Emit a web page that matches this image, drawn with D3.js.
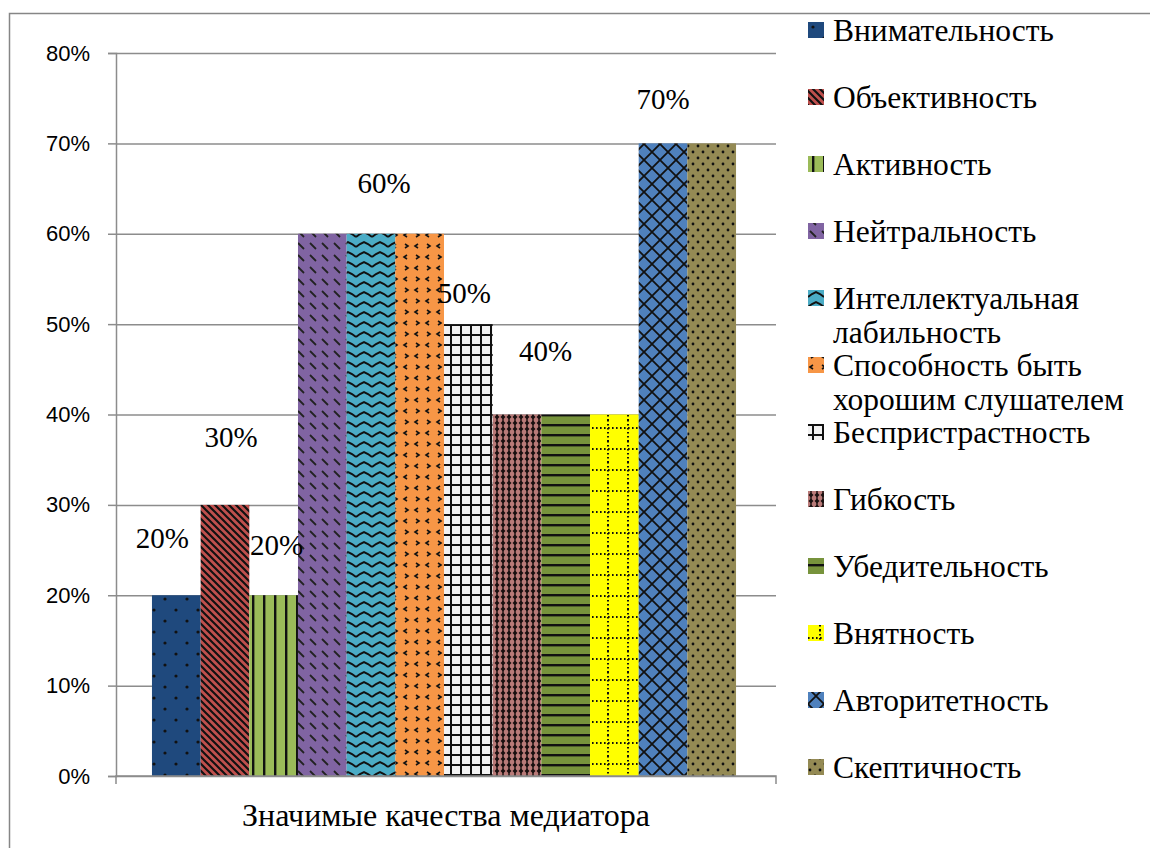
<!DOCTYPE html>
<html>
<head>
<meta charset="utf-8">
<script src="https://cdn.jsdelivr.net/npm/d3@7"></script>
<style>
  body { margin: 0; background: #fff; }
  svg { display: block; }
  .serif { font-family: "Liberation Serif", "Times New Roman", Times, "DejaVu Serif", serif; }
</style>
</head>
<body>
<div id="chart"></div>
<script>
  // Chart data
  const categories = ['Значимые качества медиатора'];
  const qualities = [
    'Внимательность', 'Объективность', 'Активность', 'Нейтральность',
    'Интеллектуальная лабильность', 'Способность быть хорошим слушателем',
    'Беспристрастность', 'Гибкость', 'Убедительность', 'Внятность',
    'Авторитетность', 'Скептичность'
  ];
  const values = [0.2, 0.3, 0.2, 0.6, 0.6, 0.6, 0.5, 0.4, 0.4, 0.4, 0.7, 0.7];
  const yTicks = [0, 0.1, 0.2, 0.3, 0.4, 0.5, 0.6, 0.7, 0.8];
  // which bars carry a visible data label (others are hidden behind overlap in the original)
  const labelledBars = [0, 1, 2, 4, 6, 8, 10];

  const barColors = ['#1f497d', '#c0504d', '#9bbb59', '#8064a2', '#4bacc6', '#f79646',
                     '#f2f2f2', '#b97a78', '#77933c', '#ffff00', '#4f81bd', '#948a54'];

  // label nudges [dx, dy] relative to bar centre / bar top
  const labelOffsets = {
    0: [-14, -47], 1: [6, -58], 2: [3, -40], 4: [13, -41],
    6: [-4, -21], 8: [-20, -54], 10: [0, -34]
  };

  const W = 1150, H = 848;
  const plot = { left: 116, right: 776, top: 53, bottom: 776 };

  const svg = d3.select('#chart')
    .append('svg')
    .attr('width', W)
    .attr('height', H);

  // ---- patterns ----
  const defs = svg.append('defs');
  const ink = '#111';

  function pattern(id, w, h, bg, draw) {
    const p = defs.append('pattern')
      .attr('id', id)
      .attr('patternUnits', 'userSpaceOnUse')
      .attr('width', w)
      .attr('height', h);
    p.append('rect').attr('width', w).attr('height', h).attr('fill', bg);
    draw(p);
  }

  const patternDefs = [
    // dotted
    (id, c) => pattern(id, 22, 22, c, p => {
      p.append('circle').attr('cx', 5).attr('cy', 5).attr('r', 1.6).attr('fill', ink);
      p.append('circle').attr('cx', 16).attr('cy', 16).attr('r', 1.6).attr('fill', ink);
    }),
    // wide downward diagonal
    (id, c) => pattern(id, 7, 7, c, p => {
      p.append('path').attr('d', 'M-1,-1L8,8M-1,6L1,8M6,-1L8,1')
        .attr('stroke', ink).attr('stroke-width', 2.2);
    }),
    // dark vertical
    (id, c) => pattern(id, 11, 11, c, p => {
      p.append('rect').attr('x', 4).attr('width', 2.4).attr('height', 11).attr('fill', ink);
    }),
    // dashed downward diagonal
    (id, c) => pattern(id, 12, 12, c, p => {
      p.append('path').attr('d', 'M2,3L8,9')
        .attr('stroke', '#222').attr('stroke-width', 1.8);
    }),
    // zigzag wave
    (id, c) => pattern(id, 16, 10, c, p => {
      p.append('path').attr('d', 'M0,7L4,4L8,2L12,4L16,7')
        .attr('fill', 'none').attr('stroke', ink).attr('stroke-width', 2);
    }),
    // divot
    (id, c) => pattern(id, 22, 22, c, p => {
      p.append('path').attr('d', 'M3,2L6,4L3,6M16,2L13,4L16,6M14,13L17,15L14,17M5,13L2,15L5,17')
        .attr('fill', 'none').attr('stroke', ink).attr('stroke-width', 1.6);
    }),
    // small grid
    (id, c) => pattern(id, 10, 10, c, p => {
      p.append('rect').attr('x', 4).attr('width', 2).attr('height', 10).attr('fill', ink);
      p.append('rect').attr('y', 4).attr('width', 10).attr('height', 2).attr('fill', ink);
    }),
    // solid diamond
    (id, c) => pattern(id, 6, 6, c, p => {
      p.append('path').attr('d', 'M3,0.5L5.5,3L3,5.5L0.5,3Z').attr('fill', '#1a1010');
      p.append('rect').attr('x', 2.3).attr('y', -1).attr('width', 1.4).attr('height', 8).attr('fill', '#1a1010');
    }),
    // dark horizontal
    (id, c) => pattern(id, 10, 10, c, p => {
      p.append('rect').attr('y', 4).attr('width', 10).attr('height', 2.4).attr('fill', ink);
    }),
    // dotted grid
    (id, c) => pattern(id, 20, 21, c, p => {
      p.append('path').attr('d', 'M0,8H20M12,0V21')
        .attr('stroke', ink).attr('stroke-width', 2).attr('stroke-dasharray', '1.6,2.4');
    }),
    // diagonal lattice
    (id, c) => pattern(id, 16, 16, c, p => {
      p.append('path').attr('d', 'M0,0L16,16M16,0L0,16M-1,15L1,17M15,-1L17,1M-1,1L1,-1M15,17L17,15')
        .attr('stroke', ink).attr('stroke-width', 1.8);
    }),
    // dense dots
    (id, c) => pattern(id, 10, 12, c, p => {
      p.append('circle').attr('cx', 2).attr('cy', 2).attr('r', 1.4).attr('fill', ink);
      p.append('circle').attr('cx', 7).attr('cy', 8).attr('r', 1.4).attr('fill', ink);
    })
  ];

  qualities.forEach((q, i) => patternDefs[i]('pat' + i, barColors[i]));

  // ---- frame ----
  svg.append('path')
    .attr('d', `M9.5,${H}V13.5H${W}`)
    .attr('fill', 'none')
    .attr('stroke', '#868686')
    .attr('stroke-width', 1.5);

  // ---- scales ----
  const x0 = d3.scaleBand()
    .domain(categories)
    .range([plot.left, plot.right])
    .paddingInner(0)
    .paddingOuter(0);

  const x = d3.scaleBand()
    .domain(qualities)
    .range([-2, x0.bandwidth() - 2])
    .paddingInner(0)
    .paddingOuter(0.78);

  const y = d3.scaleLinear()
    .domain([0, 0.8])
    .range([plot.bottom, plot.top]);

  // gridlines
  svg.append('g')
    .attr('transform', `translate(${plot.left},0)`)
    .call(d3.axisLeft(y).tickValues(yTicks).tickSize(-(plot.right - plot.left)).tickFormat(''))
    .call(g => g.select('.domain').remove())
    .call(g => g.selectAll('line').attr('stroke', '#8c8c8c').attr('stroke-width', 1.5));

  // y axis
  svg.append('g')
    .attr('transform', `translate(${plot.left},0)`)
    .call(d3.axisLeft(y).tickValues(yTicks).tickSize(8).tickPadding(18).tickFormat(d3.format('.0%')))
    .call(g => g.select('.domain').attr('stroke', '#8c8c8c').attr('stroke-width', 1.5))
    .call(g => g.selectAll('line').attr('stroke', '#8c8c8c').attr('stroke-width', 1.5))
    .call(g => g.selectAll('text')
      .style('font-family', '"Liberation Sans", Arial, sans-serif')
      .style('font-size', '22px')
      .attr('fill', '#000'));

  // ---- bars ----
  const group = svg.append('g')
    .attr('transform', `translate(${x0(categories[0])},0)`);

  group.selectAll('rect.bar')
    .data(qualities)
    .enter()
    .append('rect')
    .attr('class', 'bar')
    .attr('x', d => x(d))
    .attr('y', (d, i) => y(values[i]))
    .attr('width', x.bandwidth())
    .attr('height', (d, i) => y(0) - y(values[i]))
    .attr('fill', (d, i) => `url(#pat${i})`);

  // x axis
  svg.append('g')
    .attr('transform', `translate(0,${plot.bottom})`)
    .call(d3.axisBottom(x0).tickSize(0).tickFormat(''))
    .call(g => g.select('.domain').attr('stroke', '#8c8c8c').attr('stroke-width', 1.5)
      .attr('d', `M${plot.left},8V0H${plot.right}V8`));

  svg.append('text')
    .attr('class', 'serif')
    .attr('x', x0(categories[0]) + x0.bandwidth() / 2)
    .attr('y', 826)
    .attr('text-anchor', 'middle')
    .attr('font-size', 32)
    .text(categories[0]);

  // ---- data labels ----
  group.selectAll('text.val')
    .data(labelledBars)
    .enter()
    .append('text')
    .attr('class', 'val serif')
    .attr('x', i => x(qualities[i]) + x.bandwidth() / 2 + labelOffsets[i][0])
    .attr('y', i => y(values[i]) + labelOffsets[i][1])
    .attr('text-anchor', 'middle')
    .attr('font-size', 29)
    .text(i => d3.format('.0%')(values[i]));

  // ---- legend ----
  const legend = svg.append('g').attr('transform', 'translate(808,0)');
  const legendStep = 67;
  const firstBaseline = 41;

  qualities.forEach((q, i) => {
    const base = firstBaseline + i * legendStep;
    legend.append('rect')
      .attr('x', 0)
      .attr('y', base - 19)
      .attr('width', 16)
      .attr('height', 16)
      .attr('fill', `url(#pat${i})`);

    const t = legend.append('text')
      .attr('class', 'serif')
      .attr('x', 25)
      .attr('y', base)
      .attr('font-size', 31.5);

    // wrap long names into lines that fit the legend column
    const words = q.split(' ');
    let line = [];
    let tspan = t.append('tspan').attr('x', 25).attr('dy', 0);
    words.forEach(w => {
      line.push(w);
      tspan.text(line.join(' '));
      if (tspan.node().getComputedTextLength() > 310 && line.length > 1) {
        line.pop();
        tspan.text(line.join(' '));
        line = [w];
        tspan = t.append('tspan').attr('x', 25).attr('dy', 34).text(w);
      }
    });
  });
</script>
</body>
</html>
